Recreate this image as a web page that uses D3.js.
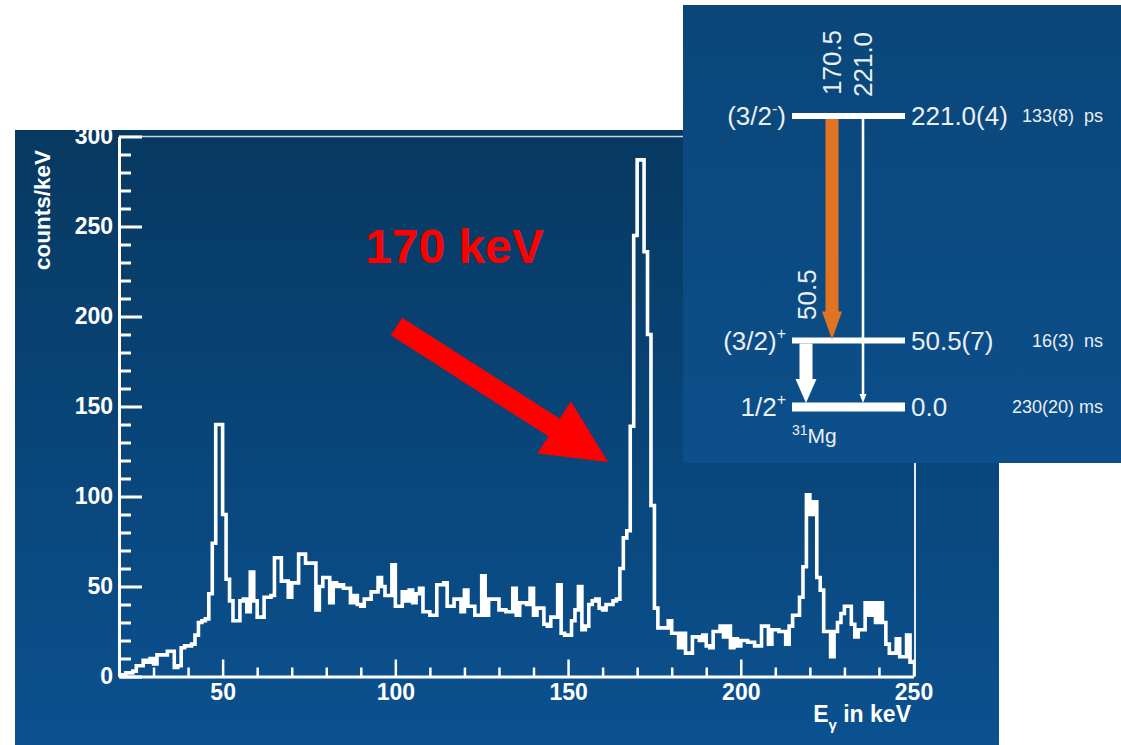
<!DOCTYPE html>
<html>
<head>
<meta charset="utf-8">
<script src="https://cdn.jsdelivr.net/npm/d3@7"></script>
<style>
  body { margin: 0; background: #ffffff; }
  svg { display: block; }
  text { font-family: "Liberation Sans", Arial, Helvetica, sans-serif; }
</style>
</head>
<body>
<svg id="chart" width="1121" height="745"></svg>
<script>
// Gamma-ray spectrum, 1 keV bins starting at 20 keV (counts per keV)
const binStart = 20;
const binWidth = 1;
const counts = [
  1, 1, 2, 2, 3, 6, 6, 9, 8, 10,
  7, 12, 12, 12, 14, 14, 5, 6, 16, 17,
  17, 18, 23, 30, 31, 32, 46, 74, 140, 140,
  90, 54, 42, 31, 31, 42, 43, 36, 58, 42,
  33, 33, 44, 44, 45, 66, 66, 53, 53, 44,
  52, 52, 68, 68, 63, 63, 63, 37, 50, 55,
  55, 41, 52, 50, 51, 49, 49, 41, 45, 40,
  39, 43, 43, 47, 47, 55, 50, 45, 45, 62,
  39, 39, 47, 42, 48, 41, 46, 49, 36, 36,
  34, 34, 51, 51, 52, 39, 39, 43, 43, 36,
  48, 39, 39, 34, 34, 56, 34, 43, 43, 43,
  37, 37, 36, 36, 49, 34, 41, 41, 40, 49,
  34, 38, 38, 29, 28, 33, 33, 51, 24, 23,
  23, 31, 37, 50, 26, 28, 40, 42, 43, 38,
  37, 40, 40, 42, 43, 60, 77, 81, 139, 245,
  287, 287, 236, 190, 95, 38, 27, 27, 27, 31,
  24, 24, 16, 24, 13, 13, 22, 22, 20, 23,
  17, 16, 25, 25, 28, 22, 28, 16, 21, 17,
  20, 20, 19, 19, 17, 17, 28, 28, 18, 26,
  26, 25, 25, 18, 28, 34, 34, 44, 61, 101,
  90, 97, 55, 48, 25, 25, 11, 25, 30, 35,
  39, 39, 29, 22, 26, 26, 41, 34, 41, 30,
  41, 30, 18, 13, 13, 21, 11, 11, 23, 8
];

const xDomain = [20, 250];
const yDomain = [0, 300];
const xMajorTicks = [50, 100, 150, 200, 250];
const xMinorTicks = d3.range(30, 250, 10).filter(v => v % 50 !== 0);
const yMajorTicks = [0, 50, 100, 150, 200, 250, 300];
const yMinorTicks = d3.range(10, 300, 10).filter(v => v % 50 !== 0);

const xTitle = "E";
const xTitleSub = "γ";
const xTitleRest = " in keV";
const yTitle = "counts/keV";
const peakNote = "170 keV";

// Level scheme of 31Mg
const levelEnergies = [221.0, 50.5, 0.0];
const levelEnergyLabels = ["221.0(4)", "50.5(7)", "0.0"];
const levelSpinMain = ["(3/2", "(3/2)", "1/2"];
const levelSpinSup = ["-", "+", "+"];
const levelSpinTail = [")", "", ""];
const levelLifetimes = ["133(8)\u00a0\u00a0ps", "16(3)\u00a0\u00a0ns", "230(20) ms"];
const levelThickness = [6, 6, 9];

const gammaEnergies = [170.5, 221.0, 50.5];
const gammaFrom = [221.0, 221.0, 50.5];
const gammaTo = [50.5, 0.0, 0.0];
const gammaLabels = ["170.5", "221.0", "50.5"];

const svg = d3.select("#chart");
const defs = svg.append("defs");

const gMain = defs.append("linearGradient").attr("id", "mainBg")
  .attr("x1", 0).attr("y1", 0).attr("x2", 0).attr("y2", 1);
gMain.append("stop").attr("offset", "0%").attr("stop-color", "#073961");
gMain.append("stop").attr("offset", "100%").attr("stop-color", "#0b5190");

const gInset = defs.append("linearGradient").attr("id", "insetBg")
  .attr("x1", 0).attr("y1", 0).attr("x2", 0).attr("y2", 1);
gInset.append("stop").attr("offset", "0%").attr("stop-color", "#0a4679");
gInset.append("stop").attr("offset", "100%").attr("stop-color", "#0c4f8b");

// Spectrum panel
svg.append("rect").attr("x", 15).attr("y", 130).attr("width", 984).attr("height", 615)
  .attr("fill", "url(#mainBg)");

const x = d3.scaleLinear().domain(xDomain).range([119, 913.5]);
const y = d3.scaleLinear().domain(yDomain).range([676.5, 136.5]);

// frame (top and right)
svg.append("line").attr("x1", x(20)).attr("x2", 915).attr("y1", y(300)).attr("y2", y(300))
  .attr("stroke", "#c9d6e3").attr("stroke-width", 1.5);
svg.append("line").attr("x1", 915).attr("x2", 915).attr("y1", y(300)).attr("y2", y(0))
  .attr("stroke", "#e3e9ef").attr("stroke-width", 2);

// histogram
const pts = counts.map((v, i) => [binStart + i * binWidth, v]);
pts.push([binStart + counts.length * binWidth, counts[counts.length - 1]]);
const histLine = d3.line().x(d => x(d[0])).y(d => y(d[1])).curve(d3.curveStepAfter);
svg.append("path").attr("d", histLine(pts))
  .attr("fill", "none").attr("stroke", "#ffffff").attr("stroke-width", 3.6)
  .attr("stroke-linejoin", "miter");

// axes
function styleAxis(g, sw) {
  g.selectAll("path.domain").attr("stroke", "#ffffff").attr("stroke-width", 3);
  g.selectAll(".tick line").attr("stroke", "#ffffff").attr("stroke-width", sw);
  g.selectAll(".tick text").attr("fill", "#ffffff")
    .style("font-family", "'Liberation Sans', Arial, sans-serif")
    .style("font-weight", "bold").style("font-size", "23px");
}

const yMinor = svg.append("g").attr("transform", `translate(${x(20)},0)`)
  .call(d3.axisLeft(y).tickValues(yMinorTicks).tickSize(-12).tickFormat(""));
yMinor.select("path.domain").remove();
yMinor.selectAll(".tick text").remove();
yMinor.selectAll(".tick line").attr("stroke", "#ffffff").attr("stroke-width", 3);

const xMinor = svg.append("g").attr("transform", `translate(0,${y(0)})`)
  .call(d3.axisBottom(x).tickValues(xMinorTicks).tickSize(-9).tickFormat(""));
xMinor.select("path.domain").remove();
xMinor.selectAll(".tick text").remove();
xMinor.selectAll(".tick line").attr("stroke", "#ffffff").attr("stroke-width", 2.5);

const yAxis = svg.append("g").attr("transform", `translate(${x(20)},0)`)
  .call(d3.axisLeft(y).tickValues(yMajorTicks).tickSize(-23).tickSizeOuter(0).tickPadding(6).tickFormat(d3.format("d")));
styleAxis(yAxis, 3);

const xAxis = svg.append("g").attr("transform", `translate(0,${y(0)})`)
  .call(d3.axisBottom(x).tickValues(xMajorTicks).tickSize(-17).tickSizeOuter(0).tickPadding(7).tickFormat(d3.format("d")));
styleAxis(xAxis, 2.5);

// axis titles
svg.append("text")
  .attr("transform", "translate(50,150) rotate(-90)")
  .attr("text-anchor", "end")
  .attr("fill", "#ffffff").style("font-weight", "bold").style("font-size", "22.5px")
  .text(yTitle);

const xt = svg.append("text").attr("x", 911).attr("y", 722).attr("text-anchor", "end")
  .attr("fill", "#ffffff").style("font-weight", "bold").style("font-size", "23px");
xt.append("tspan").text(xTitle);
xt.append("tspan").attr("dy", 8).style("font-size", "15px").text(xTitleSub);
xt.append("tspan").attr("dy", -8).text(xTitleRest);

// annotation: label and arrow toward the 170 keV peak
svg.append("text").attr("x", 365).attr("y", 263)
  .attr("fill", "#ff0000").style("font-weight", "bold").style("font-size", "48px")
  .text(peakNote);

(function drawArrow() {
  const tail = [396.5, 326.5], tip = [608, 462];
  const dx = tip[0] - tail[0], dy = tip[1] - tail[1];
  const len = Math.hypot(dx, dy);
  const ux = dx / len, uy = dy / len, px = -uy, py = ux;
  const shaftW = 21, headW = 62, headL = 64;
  const base = [tip[0] - ux * headL, tip[1] - uy * headL];
  const p = (o, w) => [o[0] + px * w / 2, o[1] + py * w / 2];
  const poly = [p(tail, shaftW), p(base, shaftW), p(base, headW), tip,
    p(base, -headW), p(base, -shaftW), p(tail, -shaftW)];
  svg.append("polygon").attr("points", poly.map(d => d.join(",")).join(" "))
    .attr("fill", "#ff0000");
})();

// Level scheme inset
svg.append("rect").attr("x", 683).attr("y", 5).attr("width", 438).attr("height", 458)
  .attr("fill", "url(#insetBg)");

const ly = d3.scaleLinear().domain([0, 221.0]).range([407, 116]);
const levelX0 = 792, levelX1 = 905;
const ink = "#eaeff4";

levelEnergies.forEach((E, i) => {
  svg.append("line").attr("x1", levelX0).attr("x2", levelX1)
    .attr("y1", ly(E)).attr("y2", ly(E))
    .attr("stroke", "#ffffff").attr("stroke-width", levelThickness[i]);
  svg.append("text").attr("x", 911).attr("y", ly(E) + 9)
    .attr("fill", ink).style("font-size", "26px").text(levelEnergyLabels[i]);
  svg.append("text").attr("x", 1103).attr("y", ly(E) + 6)
    .attr("text-anchor", "end").attr("fill", ink).style("font-size", "18px")
    .text(levelLifetimes[i]);
  const st = svg.append("text").attr("x", 786).attr("y", ly(E) + 9)
    .attr("text-anchor", "end").attr("fill", ink).style("font-size", "26px");
  st.append("tspan").text(levelSpinMain[i]);
  st.append("tspan").attr("dy", -11).style("font-size", "16px").text(levelSpinSup[i]);
  if (levelSpinTail[i]) st.append("tspan").attr("dy", 11).text(levelSpinTail[i]);
});

// nucleus label
const nuc = svg.append("text").attr("x", 792).attr("y", 443).attr("fill", ink);
nuc.append("tspan").style("font-size", "14px").attr("dy", -8).text("31");
nuc.append("tspan").style("font-size", "21px").attr("dy", 8).text("Mg");

// transitions
function arrow(xc, y0, y1, shaftW, headW, headL, color) {
  const hb = y1 - headL;
  const pts = [[xc - shaftW / 2, y0], [xc + shaftW / 2, y0], [xc + shaftW / 2, hb],
    [xc + headW / 2, hb], [xc, y1], [xc - headW / 2, hb], [xc - shaftW / 2, hb]];
  svg.append("polygon").attr("points", pts.map(d => d.join(",")).join(" "))
    .attr("fill", color);
}
const gammaX = [832, 863, 806];
const gammaStyle = [
  { shaft: 13, head: 20, headL: 28, color: "#e07422", labelX: 841, labelY: 95 },
  { shaft: 2.6, head: 7, headL: 9, color: "#ffffff", labelX: 872, labelY: 97 },
  { shaft: 13, head: 21, headL: 24, color: "#ffffff", labelX: 816, labelY: 320 }
];
gammaEnergies.forEach((Eg, i) => {
  const s = gammaStyle[i];
  arrow(gammaX[i], ly(gammaFrom[i]) + 3, ly(gammaTo[i]) - (gammaTo[i] === 0 ? 4 : 1),
    s.shaft, s.head, s.headL, s.color);
  svg.append("text")
    .attr("transform", `translate(${s.labelX},${s.labelY}) rotate(-90)`)
    .attr("fill", ink).style("font-size", "26px").text(gammaLabels[i]);
});
</script>
</body>
</html>
